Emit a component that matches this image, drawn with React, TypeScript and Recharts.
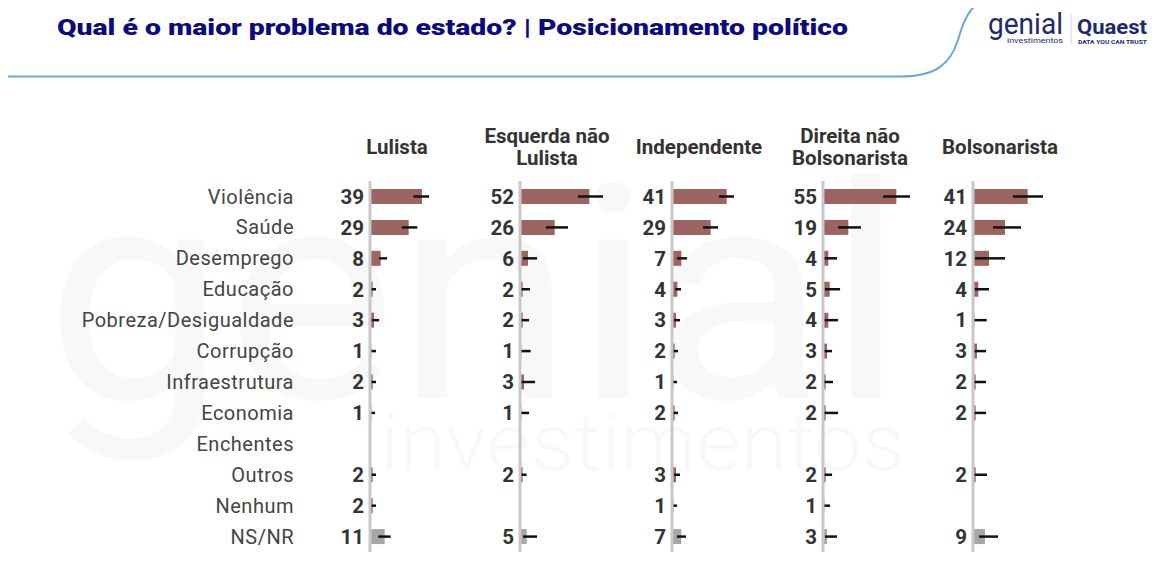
import React from "react";
import { BarChart, Bar, XAxis, YAxis, ErrorBar, LabelList, Cell } from "recharts";

const categories = [
  "Violência",
  "Saúde",
  "Desemprego",
  "Educação",
  "Pobreza/Desigualdade",
  "Corrupção",
  "Infraestrutura",
  "Economia",
  "Enchentes",
  "Outros",
  "Nenhum",
  "NS/NR",
];

const groupHeaders = [
  ["Lulista"],
  ["Esquerda não", "Lulista"],
  ["Independente"],
  ["Direita não", "Bolsonarista"],
  ["Bolsonarista"],
];

// percentages per group (null = not shown)
const lulista = [39, 29, 8, 2, 3, 1, 2, 1, null, 2, 2, 11];
const esquerdaNaoLulista = [52, 26, 6, 2, 2, 1, 3, 1, null, 2, null, 5];
const independente = [41, 29, 7, 4, 3, 2, 1, 2, 0, 3, 1, 7];
const direitaNaoBolsonarista = [55, 19, 4, 5, 4, 3, 2, 2, null, 2, 1, 3];
const bolsonarista = [41, 24, 12, 4, 1, 3, 2, 2, null, 2, null, 9];

// interval bounds (low / high, in points) read from the whiskers
const lulistaLow = [32.5, 23.8, 6.8, 0.5, 1, 0.2, 0.5, 0.2, null, 0.5, 0.5, 6.2];
const lulistaHigh = [44.3, 35.5, 12.8, 4.5, 6.8, 4.5, 4.5, 3.8, null, 4.5, 4.5, 15.5];
const esquerdaLow = [43.5, 19.5, 2.3, 0.5, 0.5, 0.2, 0.8, 0.2, null, 0.5, null, 2.3];
const esquerdaHigh = [62.3, 36, 12.8, 7.5, 6.8, 8, 11.3, 6.8, null, 5, null, 12.8];
const independenteLow = [35.3, 23.3, 3.8, 2.5, 1.5, 1, 0.3, 1, 0, 1.5, 0.3, 3.8];
const independenteHigh = [46.5, 34.5, 11.3, 6.8, 6, 4.5, 3.8, 4.5, 3.8, 6, 3.8, 10.5];
const direitaLow = [45, 11.3, 0.8, 1.5, 1, 0.8, 0.5, 0.3, null, 0.5, 0.1, 1.5];
const direitaHigh = [65.3, 28.5, 10.5, 12.8, 11.3, 6.8, 7.5, 11.3, null, 6.8, 5.3, 10.5];
const bolsonaristaLow = [30, 15, 1.5, 1, 0.1, 0.5, 0.3, 0.3, null, 0.3, null, 4.5];
const bolsonaristaHigh = [52.5, 36, 24, 12, 10.3, 9.8, 9.8, 9.8, null, 10.5, null, 18.8];

const seriesValues = [lulista, esquerdaNaoLulista, independente, direitaNaoBolsonarista, bolsonarista];
const seriesLow = [lulistaLow, esquerdaLow, independenteLow, direitaLow, bolsonaristaLow];
const seriesHigh = [lulistaHigh, esquerdaHigh, independenteHigh, direitaHigh, bolsonaristaHigh];

const AXIS_X = [370, 520, 672, 823, 973];
const CHART_TOP = 170;
const CHART_HEIGHT = 394;
const PLOT_WIDTH = 140;
const BAR_COLOR = "#9c6562";
const NSNR_COLOR = "#a6a6a6";

function buildRows(index: number) {
  const values = seriesValues[index];
  const lows = seriesLow[index];
  const highs = seriesHigh[index];
  return categories.map((cat, i) => {
    const v = values[i];
    const lo = lows[i];
    const hi = highs[i];
    return {
      cat,
      value: v,
      err: v == null || lo == null || hi == null ? null : [v - lo, hi - v],
    };
  });
}

function Panel({ index }: { index: number }) {
  const axisX = AXIS_X[index];
  const showCats = index === 0;
  const leftSpace = showCats ? axisX : 60;
  const yWidth = showCats ? 300 : 1;
  const rows = buildRows(index);

  return (
    <div style={{ position: "absolute", left: axisX - leftSpace, top: CHART_TOP }}>
      <BarChart
        layout="vertical"
        width={leftSpace + PLOT_WIDTH + 10}
        height={CHART_HEIGHT}
        data={rows}
        margin={{ top: 11, right: 10, bottom: 12, left: leftSpace - yWidth }}
        barSize={15}
      >
        <XAxis type="number" domain={[0, 105]} hide />
        <YAxis
          type="category"
          dataKey="cat"
          width={yWidth}
          interval={0}
          tickLine={false}
          tickSize={0}
          tickMargin={76}
          axisLine={{ stroke: "#c8c8c8", strokeWidth: 3 }}
          tick={
            showCats
              ? { fill: "#444", fontSize: 20, fontFamily: "Roboto", letterSpacing: 0.5 }
              : false
          }
        />
        <Bar dataKey="value" isAnimationActive={false} fill={BAR_COLOR}>
          {rows.map((r) => (
            <Cell key={r.cat} fill={r.cat === "NS/NR" ? NSNR_COLOR : BAR_COLOR} />
          ))}
          <ErrorBar dataKey="err" direction="x" width={0} stroke="#111" strokeWidth={2.5} />
          <LabelList
            dataKey="value"
            position="left"
            offset={6}
            fill="#333"
            fontSize={20.5}
            fontWeight={700}
            fontFamily="Roboto"
          />
        </Bar>
      </BarChart>
    </div>
  );
}

function Backdrop() {
  return (
    <svg width={1155} height={587} style={{ position: "absolute", left: 0, top: 0 }}>
      {/* faint watermark */}
      <text x={45} y={398} fontFamily="Roboto" fontSize={300} fill="#f8f8f8" textLength={860} lengthAdjust="spacingAndGlyphs">
        genial
      </text>
      <text x={380} y={470} fontFamily="Roboto" fontWeight={300} fontSize={80} fill="#f8f8f8" textLength={525} lengthAdjust="spacingAndGlyphs">
        investimentos
      </text>

      {/* header line */}
      <path
        d="M0 76.5 L900 76.5 C935 76.5 950 65 958 40 C965 15 972 3 990 -1"
        fill="none"
        stroke="#6aa5dc"
        strokeWidth={2}
      />
      <text x={57} y={35} fontFamily="Roboto" fontWeight={900} fontSize={22} fill="#0b0b7e" textLength={791} lengthAdjust="spacingAndGlyphs">
        Qual é o maior problema do estado? | Posicionamento político
      </text>

      {/* logos */}
      <text x={988} y={34} fontFamily="Roboto" fontSize={30} fill="#1d2a6e" textLength={75} lengthAdjust="spacingAndGlyphs">
        genial
      </text>
      <text x={1007} y={43} fontFamily="Roboto" fontSize={8} fill="#1d2a6e" textLength={56} lengthAdjust="spacingAndGlyphs">
        investimentos
      </text>
      <line x1={1071} y1={14} x2={1071} y2={44} stroke="#cfd4e0" strokeWidth={1} />
      <text x={1077} y={34} fontFamily="Roboto" fontWeight={700} fontSize={21} fill="#1d2a6e" textLength={70} lengthAdjust="spacingAndGlyphs">
        Quaest
      </text>
      <text x={1078} y={43.5} fontFamily="Roboto" fontWeight={700} fontSize={6} fill="#1d2a6e" textLength={69} lengthAdjust="spacingAndGlyphs">
        DATA YOU CAN TRUST
      </text>

      {/* group headers */}
      {groupHeaders.map((lines, i) => {
        const cx = AXIS_X[i] + 27;
        const ys = lines.length === 1 ? [153.5] : [143, 164.5];
        return lines.map((t, j) => (
          <text
            key={`${i}-${j}`}
            x={cx}
            y={ys[j]}
            textAnchor="middle"
            fontFamily="Roboto"
            fontWeight={700}
            fontSize={20.5}
            fill="#333"
          >
            {t}
          </text>
        ));
      })}
    </svg>
  );
}

export default function App() {
  return (
    <div
      style={{
        position: "relative",
        width: 1155,
        height: 587,
        margin: -8,
        background: "#fff",
        overflow: "hidden",
        fontFamily: "Roboto",
      }}
    >
      <Backdrop />
      {groupHeaders.map((_, i) => (
        <Panel key={i} index={i} />
      ))}
    </div>
  );
}
